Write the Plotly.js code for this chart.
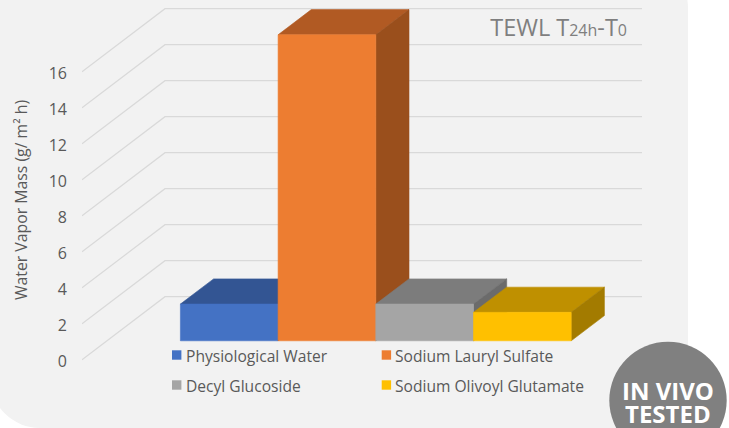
<!DOCTYPE html>
<html>
<head>
<meta charset="utf-8">
<script src="https://cdn.plot.ly/plotly-3.0.1.min.js"></script>
<style>
html,body{margin:0;padding:0;background:#fff;width:729px;height:428px;overflow:hidden}
#panel{position:absolute;left:-10px;top:-42px;width:698px;height:470px;background:#f2f2f2;border-radius:50px}
#chart{position:absolute;left:0;top:0;width:729px;height:428px}
</style>
</head>
<body>
<div id="panel"></div>
<div id="chart"></div>
<script>
// ---- data ----
var seriesNames = ["Physiological Water", "Sodium Lauryl Sulfate", "Decyl Glucoside", "Sodium Olivoyl Glutamate"];
var seriesValues = [2.04, 17.0, 2.04, 1.58];
var frontColors = ["#4472C4", "#ED7D31", "#A5A5A5", "#FFC000"];
var topColors = ["#335593", "#B15A23", "#7C7C7C", "#BF9000"];
var sideColors = ["#2C4A80", "#9A4F1C", "#6B6B6B", "#A37B00"];
var yTicks = [0, 2, 4, 6, 8, 10, 12, 14, 16];
var yTitle = "Water Vapor Mass (g/ m² h)";
var chartTitle = 'TEWL T<span style="font-size:16px">24h</span>-T<span style="font-size:16px">0</span>';
var badge = "<b>IN VIVO</b>";
var badge2 = "<b>TESTED</b>";

// ---- oblique projection (depth 0 = front of floor, 1 = back wall) ----
var W = 729, H = 428, L = 82, PH = 400;
var pxPerCat = 97.7, pxPerVal = 18;
var depthX = 83 / pxPerCat, depthY = 63 / pxPerVal;
var barDepth0 = 0.30, barDepth1 = 0.70;
var xMax = (W - 155.5) / pxPerCat, xMin = (L - 155.5) / pxPerCat;
var wallRight = (559 - 155.5) / pxPerCat;
function P(c, v, d) { return [c + depthX * d, v + depthY * d]; }
function poly(pts, color) {
  pts = pts.concat([pts[0]]);
  return { type: "scatter", mode: "lines", x: pts.map(function (p) { return p[0]; }), y: pts.map(function (p) { return p[1]; }),
    fill: "toself", fillcolor: color, line: { width: 0.6, color: color }, hoverinfo: "skip", showlegend: false };
}
var traces = [];
yTicks.forEach(function (t) {
  var pts = [P(xMin, t, 0), P(xMin, t, 1), P(wallRight, t, 1)];
  traces.push({ type: "scatter", mode: "lines", x: pts.map(function (p) { return p[0]; }), y: pts.map(function (p) { return p[1]; }),
    line: { color: "#D9D9D9", width: 1.2 }, hoverinfo: "skip", showlegend: false });
});
seriesValues.forEach(function (v, i) {
  var a = barDepth0, b = barDepth1;
  traces.push(poly([P(i, v, a), P(i + 1, v, a), P(i + 1, v, b), P(i, v, b)], topColors[i]));
  traces.push(poly([P(i + 1, 0, a), P(i + 1, v, a), P(i + 1, v, b), P(i + 1, 0, b)], sideColors[i]));
  var f = poly([P(i, 0, a), P(i + 1, 0, a), P(i + 1, v, a), P(i, v, a)], frontColors[i]);
  f.name = seriesNames[i];
  traces.push(f);
});

function px(x) { return (x - L) / (W - L); }
function py(y) { return (PH - y) / PH; }
var legendX = [172, 381.7], legendY = [355, 385];
var shapes = [], annotations = [];
seriesNames.forEach(function (n, i) {
  var cx = legendX[i % 2], cy = legendY[Math.floor(i / 2)];
  shapes.push({ type: "rect", xref: "paper", yref: "paper", x0: px(cx), x1: px(cx + 9.4), y0: py(cy - 4.7), y1: py(cy + 4.7),
    fillcolor: frontColors[i], line: { width: 0 } });
  annotations.push({ xref: "paper", yref: "paper", x: px(cx + 11.5), y: py(cy + 0.5), xanchor: "left", yanchor: "middle", showarrow: false,
    text: n, font: { family: "Open Sans", size: 15.6, color: "#595959" } });
});
shapes.push({ type: "circle", xref: "paper", yref: "paper", x0: px(609.3), x1: px(726.7), y0: py(459), y1: py(341.7),
  fillcolor: "#808080", line: { width: 0 } });
annotations.push({ xref: "paper", yref: "paper", x: px(668), y: py(390), xanchor: "center", yanchor: "middle", showarrow: false,
  text: badge, font: { family: "Open Sans", size: 24, color: "#fff" } });
annotations.push({ xref: "paper", yref: "paper", x: px(668), y: py(414), xanchor: "center", yanchor: "middle", showarrow: false,
  text: badge2, font: { family: "Open Sans", size: 24, color: "#fff" } });

var layout = {
  width: W, height: H,
  margin: { l: L, r: 0, t: 0, b: H - PH, pad: 0 },
  paper_bgcolor: "rgba(0,0,0,0)", plot_bgcolor: "rgba(0,0,0,0)",
  showlegend: false,
  title: { text: chartTitle, x: 627 / W, xanchor: "right", xref: "container", y: 1 - 28 / H, yanchor: "middle", yref: "container",
    font: { family: "Open Sans", size: 23.5, color: "#7F7F7F" } },
  xaxis: { range: [xMin, xMax], visible: false, fixedrange: true },
  yaxis: { range: [(359.7 - PH) / pxPerVal, 359.7 / pxPerVal], tickvals: yTicks, ticktext: yTicks.map(String), ticks: "", showgrid: false, zeroline: false, showline: false,
    ticklabelstandoff: 14, ticklabelshift: 2, tickfont: { family: "Open Sans", size: 16, color: "#595959" },
    title: { text: yTitle, standoff: 17, font: { family: "Open Sans", size: 15.8, color: "#595959" } }, automargin: false, fixedrange: true },
  shapes: shapes, annotations: annotations
};
Plotly.newPlot("chart", traces, layout, { displayModeBar: false, staticPlot: true });
</script>
</body>
</html>
